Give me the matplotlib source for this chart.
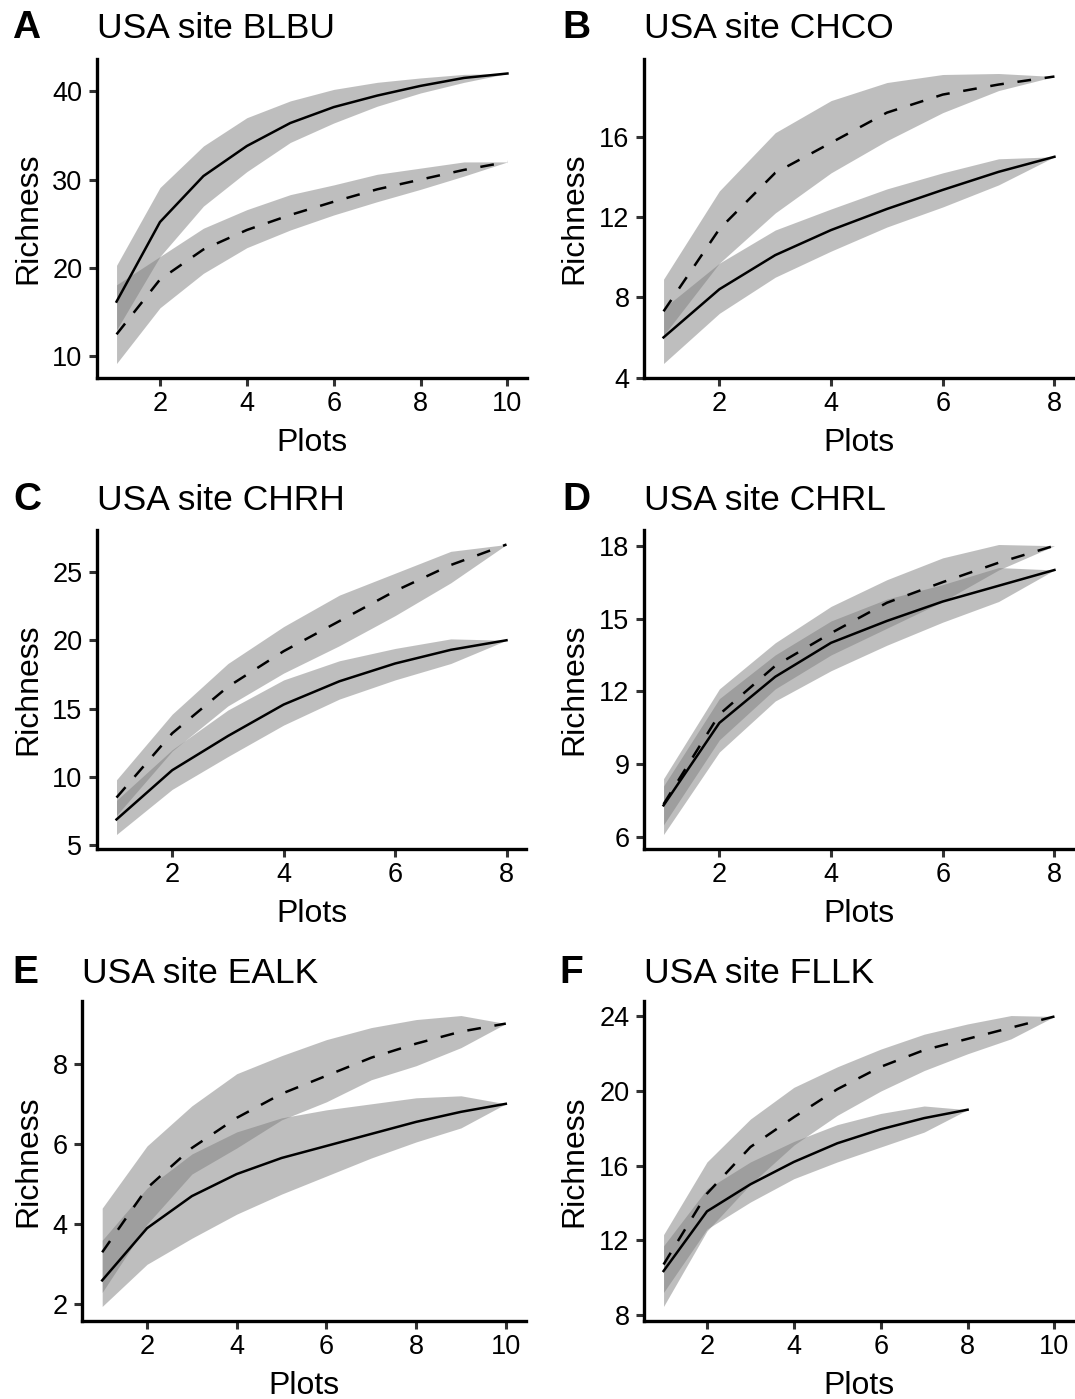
import matplotlib.pyplot as plt

plt.rcParams['font.family'] = ['Liberation Sans', 'DejaVu Sans']

letters = ["A", "B", "C", "D", "E", "F"]
sites = ["BLBU", "CHCO", "CHRH", "CHRL", "EALK", "FLLK"]

# BLBU
blbu_sx = [1, 2, 3, 4, 5, 6, 7, 8, 9, 10]
blbu_s = [16.2, 25.2, 30.4, 33.8, 36.4, 38.2, 39.5, 40.6, 41.5, 42.0]
blbu_s_lo = [13.0, 21.3, 27.0, 30.9, 34.2, 36.4, 38.3, 39.8, 41.0, 42.0]
blbu_s_hi = [20.3, 29.1, 33.8, 37.0, 38.9, 40.2, 41.0, 41.5, 41.9, 42.0]
blbu_dx = [1, 2, 3, 4, 5, 6, 7, 8, 9, 10]
blbu_d = [12.5, 18.7, 22.1, 24.3, 26.0, 27.5, 28.9, 30.0, 31.1, 32.0]
blbu_d_lo = [9.2, 15.5, 19.4, 22.3, 24.3, 26.0, 27.5, 28.9, 30.4, 32.0]
blbu_d_hi = [18.1, 21.3, 24.5, 26.6, 28.3, 29.4, 30.6, 31.3, 32.0, 32.0]

# CHCO
chco_sx = [1, 2, 3, 4, 5, 6, 7, 8]
chco_s = [6.0, 8.4, 10.1, 11.35, 12.4, 13.35, 14.25, 15.0]
chco_s_lo = [4.7, 7.2, 9.0, 10.3, 11.5, 12.5, 13.6, 15.0]
chco_s_hi = [7.45, 9.7, 11.35, 12.4, 13.4, 14.2, 14.9, 15.0]
chco_dx = [1, 2, 3, 4, 5, 6, 7, 8]
chco_d = [7.3, 11.4, 14.2, 15.7, 17.2, 18.1, 18.6, 19.0]
chco_d_lo = [6.1, 9.7, 12.2, 14.2, 15.8, 17.2, 18.3, 19.0]
chco_d_hi = [8.9, 13.3, 16.2, 17.8, 18.7, 19.1, 19.15, 19.0]

# CHRH
chrh_sx = [1, 2, 3, 4, 5, 6, 7, 8]
chrh_s = [6.9, 10.5, 13.0, 15.3, 17.0, 18.3, 19.3, 20.0]
chrh_s_lo = [5.8, 9.1, 11.5, 13.8, 15.7, 17.1, 18.3, 20.0]
chrh_s_hi = [8.3, 12.0, 14.9, 17.1, 18.5, 19.4, 20.1, 20.0]
chrh_dx = [1, 2, 3, 4, 5, 6, 7, 8]
chrh_d = [8.5, 13.2, 16.6, 19.2, 21.4, 23.6, 25.5, 27.0]
chrh_d_lo = [7.2, 11.9, 15.2, 17.6, 19.6, 21.8, 24.2, 27.0]
chrh_d_hi = [9.8, 14.6, 18.3, 21.0, 23.3, 24.9, 26.5, 27.0]

# CHRL
chrl_sx = [1, 2, 3, 4, 5, 6, 7, 8]
chrl_s = [7.3, 10.7, 12.6, 14.0, 14.9, 15.7, 16.35, 17.0]
chrl_s_lo = [6.1, 9.5, 11.6, 12.85, 13.9, 14.85, 15.7, 17.0]
chrl_s_hi = [8.1, 11.7, 13.5, 14.9, 15.8, 16.4, 17.1, 17.0]
chrl_dx = [1, 2, 3, 4, 5, 6, 7, 8]
chrl_d = [7.35, 11.05, 13.05, 14.4, 15.65, 16.5, 17.3, 18.0]
chrl_d_lo = [6.5, 10.0, 12.1, 13.5, 14.6, 15.7, 17.0, 18.0]
chrl_d_hi = [8.4, 12.1, 14.0, 15.5, 16.6, 17.5, 18.05, 18.0]

# EALK
ealk_sx = [1, 2, 3, 4, 5, 6, 7, 8, 9, 10]
ealk_s = [2.6, 3.9, 4.7, 5.25, 5.65, 5.95, 6.25, 6.55, 6.8, 7.0]
ealk_s_lo = [1.95, 3.0, 3.65, 4.25, 4.75, 5.2, 5.65, 6.05, 6.4, 7.0]
ealk_s_hi = [3.6, 4.9, 5.75, 6.3, 6.65, 6.85, 7.0, 7.15, 7.2, 7.0]
ealk_dx = [1, 2, 3, 4, 5, 6, 7, 8, 9, 10]
ealk_d = [3.3, 4.9, 5.9, 6.65, 7.25, 7.7, 8.15, 8.5, 8.8, 9.0]
ealk_d_lo = [2.3, 4.0, 5.25, 5.9, 6.6, 7.05, 7.6, 7.95, 8.4, 9.0]
ealk_d_hi = [4.4, 5.95, 6.95, 7.75, 8.2, 8.6, 8.9, 9.1, 9.2, 9.0]

# FLLK
fllk_sx = [1, 2, 3, 4, 5, 6, 7, 8]
fllk_s = [10.35, 13.55, 15.0, 16.2, 17.2, 17.95, 18.55, 19.0]
fllk_s_lo = [9.2, 12.6, 14.05, 15.3, 16.2, 17.0, 17.8, 19.0]
fllk_s_hi = [11.7, 14.75, 16.2, 17.3, 18.2, 18.8, 19.2, 19.0]
fllk_dx = [1, 2, 3, 4, 5, 6, 7, 8, 9, 10]
fllk_d = [10.7, 14.5, 17.0, 18.6, 20.1, 21.3, 22.2, 22.8, 23.4, 24.0]
fllk_d_lo = [8.45, 12.5, 15.0, 17.1, 18.7, 20.0, 21.1, 22.0, 22.8, 24.0]
fllk_d_hi = [12.3, 16.2, 18.5, 20.2, 21.3, 22.25, 23.05, 23.6, 24.05, 24.0]

xticks = [[2, 4, 6, 8, 10], [2, 4, 6, 8], [2, 4, 6, 8], [2, 4, 6, 8],
          [2, 4, 6, 8, 10], [2, 4, 6, 8, 10]]
yticks = [[10, 20, 30, 40], [4, 8, 12, 16], [5, 10, 15, 20, 25],
          [6, 9, 12, 15, 18], [2, 4, 6, 8], [8, 12, 16, 20, 24]]

panels = [
    (blbu_sx, blbu_s, blbu_s_lo, blbu_s_hi, blbu_dx, blbu_d, blbu_d_lo, blbu_d_hi),
    (chco_sx, chco_s, chco_s_lo, chco_s_hi, chco_dx, chco_d, chco_d_lo, chco_d_hi),
    (chrh_sx, chrh_s, chrh_s_lo, chrh_s_hi, chrh_dx, chrh_d, chrh_d_lo, chrh_d_hi),
    (chrl_sx, chrl_s, chrl_s_lo, chrl_s_hi, chrl_dx, chrl_d, chrl_d_lo, chrl_d_hi),
    (ealk_sx, ealk_s, ealk_s_lo, ealk_s_hi, ealk_dx, ealk_d, ealk_d_lo, ealk_d_hi),
    (fllk_sx, fllk_s, fllk_s_lo, fllk_s_hi, fllk_dx, fllk_d, fllk_d_lo, fllk_d_hi),
]

W, H = 1075, 1399
fig = plt.figure(figsize=(W / 100, H / 100), dpi=100)

# panel boxes in pixels: left, right, top, bottom
boxes = [(97, 527, 59, 378), (644, 1074, 59, 378),
         (97, 526, 530, 849), (644, 1074, 530, 849),
         (82, 526, 1001, 1321), (644, 1074, 1001, 1321)]
title_base = [38.5, 38.5, 510, 510, 983, 983]
letter_x = [12, 562, 13, 562, 12, 559]
ylab_x = [43, 589, 43, 589, 43, 589]   # right edge of rotated y label

for i in range(6):
    l, r, t, b = boxes[i]
    ax = fig.add_axes([l / W, 1 - b / H, (r - l) / W, (b - t) / H])
    sx, s, slo, shi, dx, d, dlo, dhi = panels[i]
    ax.fill_between(sx, slo, shi, color="#7f7f7f", alpha=0.5, lw=0)
    ax.fill_between(dx, dlo, dhi, color="#7f7f7f", alpha=0.5, lw=0)
    ax.plot(sx, s, color="black", lw=1.8)
    ax.plot(dx, d, color="black", lw=1.8, dashes=(5.5, 5.5))
    ax.set_xticks(xticks[i])
    ax.set_yticks(yticks[i])
    xmax = max(sx + dx)
    ax.set_xlim(1 - 0.05 * (xmax - 1), xmax + 0.05 * (xmax - 1))
    ax.spines["top"].set_visible(False)
    ax.spines["right"].set_visible(False)
    for sp in ["left", "bottom"]:
        ax.spines[sp].set_linewidth(2.4)
    ax.tick_params(direction="out", length=6, width=2.2, color="#333333",
                   labelsize=19.5, labelcolor="black")
    ax.tick_params(axis="x", pad=3.2)
    ax.tick_params(axis="y", pad=4.5)
    ax.set_xlabel("Plots", fontsize=23)
    ax.set_ylabel("Richness", fontsize=23)
    ax.xaxis.set_label_coords(0.5, -50 / (b - t))
    ax.yaxis.set_label_coords(-(l - ylab_x[i]) / (r - l), 0.5)
    fig.text(l / W, 1 - title_base[i] / H, "USA site " + sites[i], fontsize=25.5,
             va="baseline", ha="left")
    fig.text(letter_x[i] / W, 1 - title_base[i] / H, letters[i], fontsize=28,
             fontweight="bold", va="baseline", ha="left")

fig.savefig("out.png", dpi=100)
